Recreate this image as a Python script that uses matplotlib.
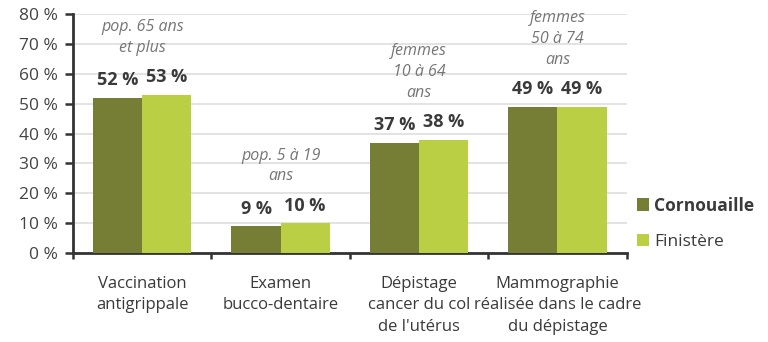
import matplotlib
matplotlib.use("Agg")
import matplotlib.pyplot as plt
import numpy as np

categories = ["Vaccination\nantigrippale", "Examen\nbucco-dentaire",
              "Dépistage\ncancer du col\nde l'utérus",
              "Mammographie\nréalisée dans le cadre\ndu dépistage"]
populations = ["pop. 65 ans\net plus", "pop. 5 à 19\nans",
               "femmes\n10 à 64\nans", "femmes\n50 à 74\nans"]
cornouaille = [52, 9, 37, 49]
finistere = [53, 10, 38, 49]
series_names = ["Cornouaille", "Finistère"]

dark_green = "#767e35"
light_green = "#bacf44"
text_dark = "#3a3a3a"

plt.rcParams["font.family"] = ["Open Sans", "DejaVu Sans"]

fig = plt.figure(figsize=(7.68, 3.42), dpi=100)
ax = fig.add_axes([0.095, 0.26, 0.721, 0.699])

x = np.arange(len(categories))
w = 0.355
b1 = ax.bar(x - w / 2, cornouaille, w, color=dark_green, label=series_names[0], zorder=3)
b2 = ax.bar(x + w / 2, finistere, w, color=light_green, label=series_names[1], zorder=3)

# value labels above each bar
for bars, vals in ((b1, cornouaille), (b2, finistere)):
    for rect, v in zip(bars, vals):
        ax.annotate(f"{v} %", (rect.get_x() + rect.get_width() / 2, v),
                    xytext=(0, 6), textcoords="offset points",
                    ha="center", va="bottom", fontsize=13, fontweight="bold",
                    color=text_dark)

# population note above each group
for i, note in enumerate(populations):
    top = max(cornouaille[i], finistere[i])
    ax.annotate(note, (x[i], top), xytext=(0, 28), textcoords="offset points",
                ha="center", va="bottom", fontsize=11.5, style="italic",
                color="#767676", linespacing=1.4)

ax.set_xlim(-0.5, 3.5)
ax.set_ylim(0, 80)
ax.set_yticks(range(0, 81, 10))
ax.set_yticklabels([f"{t} %" for t in range(0, 81, 10)], fontsize=12.5, color="#444444")
ax.yaxis.grid(True, color="#e3e3e3", linewidth=1.4, zorder=0)
ax.set_axisbelow(True)

ax.set_xticks(np.arange(-0.5, 4.0, 1.0))
ax.set_xticklabels([])
ax.tick_params(axis="x", direction="out", length=4, width=1.8, color="#333333")
ax.tick_params(axis="y", direction="out", length=6, width=1.8, color="#333333", pad=5)
for i, lab in enumerate(categories):
    ax.text(x[i], -7.6, lab, ha="center", va="top", fontsize=12,
            color=text_dark, linespacing=1.45)

for s in ("top", "right"):
    ax.spines[s].set_visible(False)
for s in ("left", "bottom"):
    ax.spines[s].set_color("#333333")
    ax.spines[s].set_linewidth(2)

leg = ax.legend(loc="center left", bbox_to_anchor=(0.99, 0.125), frameon=False,
                fontsize=12.5, handlelength=0.7, handleheight=0.7,
                handletextpad=0.3, labelspacing=1.1)
for t in leg.get_texts():
    t.set_color(text_dark)
leg.get_texts()[0].set_fontweight("bold")

fig.savefig("out.png", dpi=100)
